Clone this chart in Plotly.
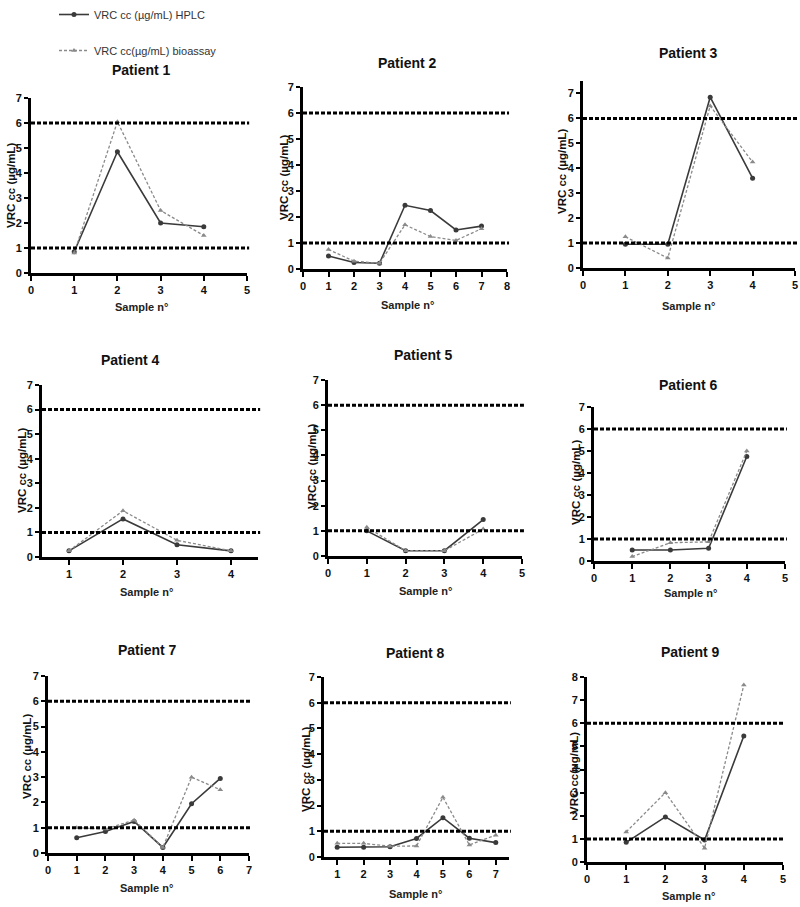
import plotly.graph_objects as go

# ---------------- data ----------------
patients = ["Patient 1", "Patient 2", "Patient 3", "Patient 4", "Patient 5",
            "Patient 6", "Patient 7", "Patient 8", "Patient 9"]

p1_samples = [1, 2, 3, 4]
p1_hplc = [0.85, 4.85, 2.0, 1.85]
p1_bio = [0.8, 6.05, 2.5, 1.5]

p2_samples = [1, 2, 3, 4, 5, 6, 7]
p2_hplc = [0.5, 0.25, 0.22, 2.45, 2.25, 1.5, 1.65]
p2_bio = [0.75, 0.3, 0.22, 1.7, 1.25, 1.1, 1.55]

p3_samples = [1, 2, 3, 4]
p3_hplc = [0.95, 0.95, 6.85, 3.6]
p3_bio = [1.25, 0.4, 6.5, 4.25]

p4_samples = [1, 2, 3, 4]
p4_hplc = [0.25, 1.55, 0.5, 0.25]
p4_bio = [0.25, 1.88, 0.68, 0.25]

p5_samples = [1, 2, 3, 4]
p5_hplc = [1.0, 0.21, 0.21, 1.45]
p5_bio = [1.14, 0.21, 0.21, 1.07]

p6_samples = [1, 2, 3, 4]
p6_hplc = [0.5, 0.5, 0.58, 4.75]
p6_bio = [0.2, 0.83, 0.87, 5.0]

p7_samples = [1, 2, 3, 4, 5, 6]
p7_hplc = [0.6, 0.85, 1.25, 0.22, 1.95, 2.95]
p7_bio = [1.0, 0.95, 1.3, 0.22, 3.0, 2.5]

p8_samples = [1, 2, 3, 4, 5, 6, 7]
p8_hplc = [0.38, 0.38, 0.4, 0.72, 1.53, 0.73, 0.56]
p8_bio = [0.53, 0.53, 0.42, 0.43, 2.32, 0.47, 0.85]

p9_samples = [1, 2, 3, 4]
p9_hplc = [0.85, 1.95, 0.95, 5.45]
p9_bio = [1.3, 3.0, 0.6, 7.65]

thresholds = [1, 6]

x_ticks = [[0, 1, 2, 3, 4, 5], [0, 1, 2, 3, 4, 5, 6, 7, 8], [0, 1, 2, 3, 4, 5],
           [1, 2, 3, 4], [0, 1, 2, 3, 4, 5], [0, 1, 2, 3, 4, 5],
           [0, 1, 2, 3, 4, 5, 6, 7], [1, 2, 3, 4, 5, 6, 7], [0, 1, 2, 3, 4, 5]]
y_ticks = [[0, 1, 2, 3, 4, 5, 6, 7]] * 8 + [[0, 1, 2, 3, 4, 5, 6, 7, 8]]

x_title = "Sample n°"
y_titles = ["VRC cc (µg/mL)"] * 8 + ["VRC cc(µg/mL)"]
legend_names = ["VRC cc (µg/mL) HPLC", "VRC cc(µg/mL) bioassay"]

samples = [p1_samples, p2_samples, p3_samples, p4_samples, p5_samples,
           p6_samples, p7_samples, p8_samples, p9_samples]
hplc = [p1_hplc, p2_hplc, p3_hplc, p4_hplc, p5_hplc, p6_hplc, p7_hplc, p8_hplc, p9_hplc]
bio = [p1_bio, p2_bio, p3_bio, p4_bio, p5_bio, p6_bio, p7_bio, p8_bio, p9_bio]

# ---------------- layout geometry (window pixels) ----------------
W, H = 800, 907


def px(xp):
    return xp / W


def py(yp):
    return 1 - yp / H


# left, right, top (pixel of y=ytop), bottom (pixel of y=0)
boxes = [(31, 247, 98, 273), (303, 507, 87, 269), (583, 795, 81, 268),
         (42, 258, 385, 557), (328, 522, 380, 556), (594, 785, 407, 561),
         (48, 249, 676, 853), (324, 509, 677, 857), (587, 783, 677, 862)]
x_ranges = [[0, 5], [0, 8], [0, 5], [0.5, 4.5], [0, 5], [0, 5], [0, 7], [0.5, 7.5], [0, 5]]
y_ranges = [[0, 7], [0, 7], [0, 7.5], [0, 7], [0, 7], [0, 7], [0, 7], [0, 7], [0, 8]]
title_pos = [(141, 70), (407, 63), (688, 53), (130, 360), (423, 355), (688, 385),
             (147, 650), (415, 653), (690, 652)]
xt_pos = [(141, 307), (407, 305), (688, 306), (146, 592), (425, 591), (690, 593),
          (146, 888), (415, 894), (688, 896)]
yt_pos = [(11, 186), (284, 178), (562, 172), (22, 471), (312, 467), (576, 483),
          (27, 757), (306, 770), (574, 773)]

BOLD_FONT = "Liberation Sans, Arial, sans-serif"
HPLC_COLOR = "#3a3a3a"
BIO_COLOR = "#8a8a8a"

fig = go.Figure()
layout = dict(
    width=W, height=H, margin=dict(l=0, r=0, t=0, b=0, autoexpand=False),
    paper_bgcolor="white", plot_bgcolor="white",
    font=dict(family=BOLD_FONT, color="#111"),
    showlegend=True,
    legend=dict(x=px(54), y=1, xref="container", yref="container",
                xanchor="left", yanchor="top",
                bgcolor="rgba(0,0,0,0)", tracegroupgap=17, itemwidth=30,
                font=dict(family=BOLD_FONT, size=11, color="#333")),
)
shapes = []
annotations = []

for i in range(9):
    n = "" if i == 0 else str(i + 1)
    xa, ya = "x" + n, "y" + n
    l, r, t, b = boxes[i]
    fig.add_trace(go.Scatter(
        x=samples[i], y=hplc[i], xaxis=xa, yaxis=ya, mode="lines+markers",
        name=legend_names[0], legendgroup="hplc", showlegend=(i == 0),
        line=dict(color=HPLC_COLOR, width=1.6),
        marker=dict(symbol="circle", size=5, color=HPLC_COLOR)))
    fig.add_trace(go.Scatter(
        x=samples[i], y=bio[i], xaxis=xa, yaxis=ya, mode="lines+markers",
        name=legend_names[1], legendgroup="bio", showlegend=(i == 0),
        line=dict(color=BIO_COLOR, width=1.3, dash="3px,2px"),
        marker=dict(symbol="triangle-up", size=5, color=BIO_COLOR)))

    axis_common = dict(showline=True, linewidth=3, linecolor="black", mirror=False,
                       ticks="outside", ticklen=5, tickwidth=2, tickcolor="black",
                       showgrid=False, zeroline=False, fixedrange=True, automargin=False,
                       tickfont=dict(family=BOLD_FONT, size=11, color="#111", weight="bold"))
    layout["xaxis" + n] = dict(axis_common, domain=[px(l), px(r)], anchor=ya,
                               range=x_ranges[i], tickvals=x_ticks[i])
    layout["yaxis" + n] = dict(axis_common, domain=[py(b), py(t)], anchor=xa,
                               range=y_ranges[i], tickvals=y_ticks[i], ticklen=4)

    for th in thresholds:
        shapes.append(dict(type="line", xref=xa + " domain", yref=ya,
                           x0=0, x1=1.01, y0=th, y1=th,
                           line=dict(color="black", width=3, dash="4px,2px"), layer="above"))

    annotations.append(dict(text="<b>" + patients[i] + "</b>", x=px(title_pos[i][0]),
                            y=py(title_pos[i][1]), xref="paper", yref="paper",
                            showarrow=False, xanchor="center", yanchor="middle",
                            font=dict(family=BOLD_FONT, size=14, color="#111")))
    annotations.append(dict(text="<b>" + x_title + "</b>", x=px(xt_pos[i][0]),
                            y=py(xt_pos[i][1]), xref="paper", yref="paper",
                            showarrow=False, xanchor="center", yanchor="middle",
                            font=dict(family=BOLD_FONT, size=11, color="#222")))
    annotations.append(dict(text="<b>" + y_titles[i] + "</b>", x=px(yt_pos[i][0]),
                            y=py(yt_pos[i][1]), xref="paper", yref="paper",
                            showarrow=False, xanchor="center", yanchor="middle",
                            textangle=-90,
                            font=dict(family=BOLD_FONT, size=11.5, color="#111")))

layout["shapes"] = shapes
layout["annotations"] = annotations
fig.update_layout(**layout)
fig.write_html("out.html", config={"displayModeBar": False},
               post_script="document.body.style.margin='0';")
